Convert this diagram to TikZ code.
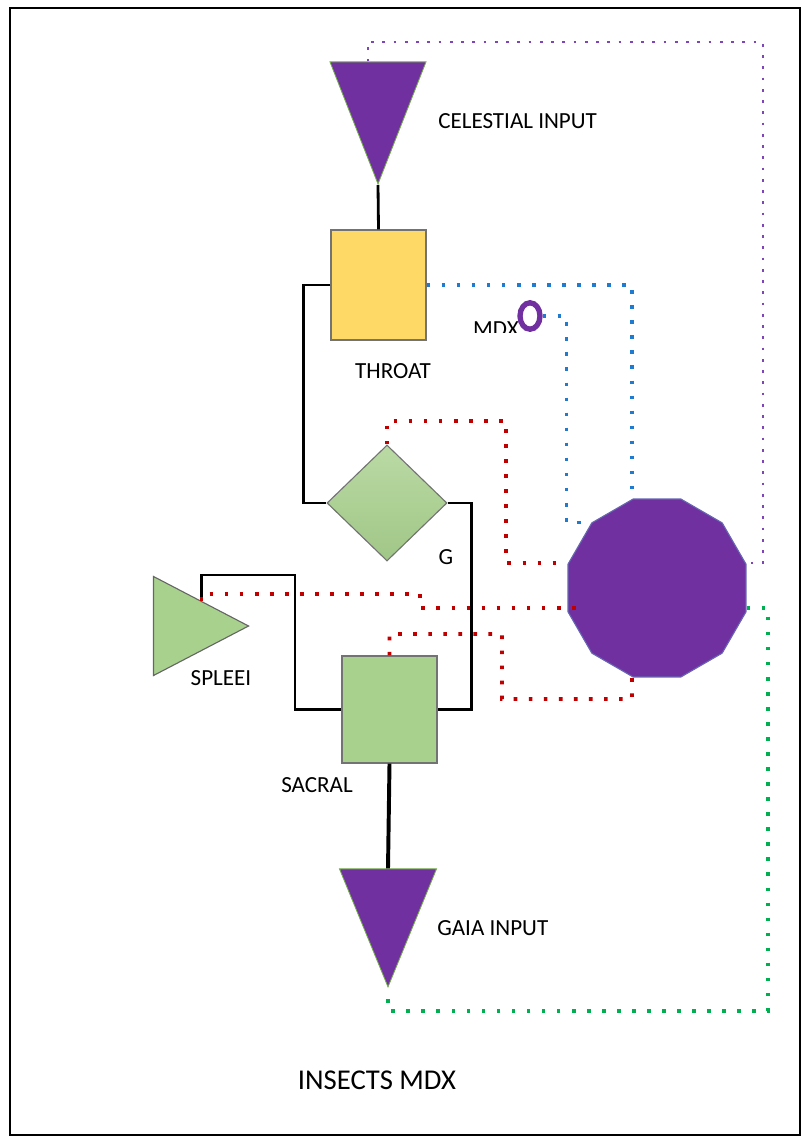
\documentclass[tikz,border=0pt]{standalone}
\usepackage{fontspec}
\setmainfont{Carlito}
\usepackage{xcolor}
\usetikzlibrary{positioning, shapes.geometric, calc}

\definecolor{chakrapurple}{HTML}{7030A0}
\definecolor{throatyellow}{HTML}{FFD966}
\definecolor{chakragreen}{HTML}{A9D18E}
\definecolor{edgegreen}{HTML}{70AD47}
\definecolor{dotblue}{HTML}{1F7BD0}
\definecolor{dotred}{HTML}{C00000}
\definecolor{dotgreen}{HTML}{00B050}
\definecolor{dotpurple}{HTML}{7F45B8}

\begin{document}
\begin{tikzpicture}[
    x=0.025cm, y=-0.025cm,
    chakrabox/.style={rectangle, draw=black!55, line width=0.8pt, inner sep=0pt},
    inputtri/.style={isosceles triangle, isosceles triangle stretches, shape border rotate=270, inner sep=0pt, fill=chakrapurple, draw=edgegreen, line width=0.6pt},
    lbl/.style={inner sep=0pt, font=\fontsize{16.4}{20}\selectfont},
    wire/.style={draw=black, line width=2pt},
    dotted line/.style={line width=2.6pt, dash pattern=on 2.6pt off 8.1pt},
    bluedot/.style={dotted line, draw=dotblue},
    reddot/.style={dotted line, draw=dotred},
    greendot/.style={dotted line, draw=dotgreen},
    purpledot/.style={draw=dotpurple, line width=2pt, dash pattern=on 2pt off 6pt}
]
    \useasboundingbox (0,0) rectangle (807,1141);
    \draw[line width=1.8pt] (10,8) rectangle (800,1135);

    % Shapes
    \node[inputtri, minimum width=2.4cm, minimum height=3.05cm, anchor=apex] (celestial) at (378,185) {};
    \node[chakrabox, fill=throatyellow, minimum width=2.375cm, minimum height=2.75cm] (throat) at (378.5,285) {};
    \node[diamond, draw=black!55, line width=0.8pt, inner sep=0pt, top color=chakragreen!80!white, bottom color=chakragreen!95!black, minimum width=3cm, minimum height=2.9cm] (gdiamond) at (387,503) {};
    \node[isosceles triangle, isosceles triangle stretches, inner sep=0pt, fill=chakragreen, draw=black!60, line width=0.8pt, minimum width=2.475cm, minimum height=2.375cm, anchor=apex] (spleen) at (250,626) {};
    \node[chakrabox, fill=chakragreen, minimum width=2.375cm, minimum height=2.675cm] (sacral) at (389.5,709.5) {};
    \node[inputtri, minimum width=2.425cm, minimum height=2.95cm, anchor=apex] (gaia) at (388,988) {};
    \node[regular polygon, regular polygon sides=12, inner sep=0pt, minimum size=4.605cm, fill=chakrapurple, draw=black!50!blue!60, line width=0.8pt] (dodec) at (657,588) {};

    % Labels
    \node[lbl, anchor=west] (celestiallbl) at (438,121) {CELESTIAL INPUT};
    \node[lbl] (throatlbl) at (393,371) {THROAT};
    \begin{scope}
        \clip (460,300) rectangle (525,333);
        \node[lbl] (mdxlbl) at (496,329) {MDX};
    \end{scope}
    \node[ellipse, draw=chakrapurple, line width=3.8pt, inner sep=0pt, minimum width=0.5cm, minimum height=0.66cm] (ring) at (530,316) {};
    \node[lbl] (glbl) at (446,557) {G};
    \node[lbl] (spleenlbl) at (221,678) {SPLEEI};
    \node[lbl] (sacrallbl) at (317,785) {SACRAL};
    \node[lbl, anchor=west] (gaialbl) at (437,928) {GAIA INPUT};
    \node[lbl, font=\fontsize{20.4}{24}\selectfont] (title) at (377,1080) {INSECTS MDX};

    % Solid wires
    \draw[wire] (celestial.apex) -- (throat.north);
    \draw[wire] (throat.west) -- ++(-27,0) |- (gdiamond.west);
    \draw[wire] (gdiamond.east) -- ++(24,0) |- (sacral.east);
    \draw[wire] (spleen.left side) |- (295,575) |- (sacral.west);
    \draw[wire, line width=2.8pt] (sacral.south) -- (gaia.lower side);

    % Dotted links
    \draw[purpledot] ([xshift=-0.25cm]celestial.lower side) |- (763,42) |- ([yshift=0.625cm]dodec.east);
    \draw[bluedot] (throat.east) -| ([xshift=-0.625cm]dodec.north);
    \draw[bluedot] (ring.east) -| ([xshift=-0.625cm]dodec.135) -- (dodec.135);
    \draw[reddot] (gdiamond.north) |- (506,421) |- ([yshift=0.625cm]dodec.west);
    \draw[reddot] (spleen.left side) |- (420,594) |- ([xshift=0.25cm, yshift=-0.5cm]dodec.west);
    \draw[reddot] (sacral.north) |- (502,634) |- (632,699) -- ([xshift=-0.625cm]dodec.south);
    \draw[greendot] ([yshift=-0.5cm]dodec.east) -| (768,1011) -| (gaia.apex);

\end{tikzpicture}
\end{document}
